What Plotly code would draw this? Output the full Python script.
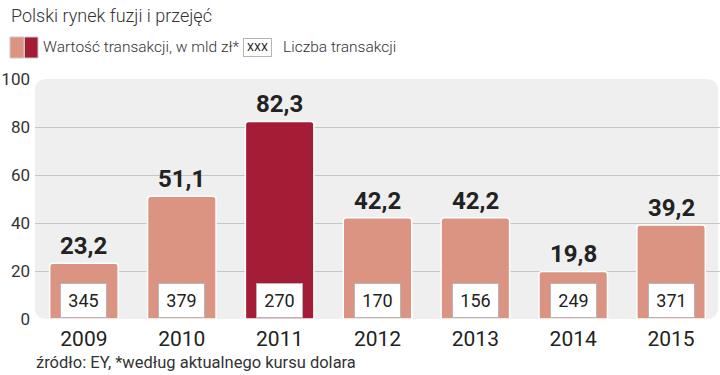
import plotly.graph_objects as go

years = ["2009", "2010", "2011", "2012", "2013", "2014", "2015"]
values = [23.2, 51.1, 82.3, 42.2, 42.2, 19.8, 39.2]
counts = [345, 379, 270, 170, 156, 249, 371]
y_ticks = [0, 20, 40, 60, 80, 100]

SALMON = "#dc9482"
DARK = "#a51c36"
TXT = "#222222"
FONT = "Roboto, sans-serif"

W, H = 720, 375
L, R, T, B = 35, 0, 79, 56
PW, PH = W - L - R, H - T - B


def px(x):
    return (x - L) / PW


def py(y):
    return (H - B - y) / PH


colors = [DARK if y == "2011" else SALMON for y in years]

fig = go.Figure()
fig.add_trace(go.Bar(
    x=years, y=values, width=0.7,
    marker=dict(color=colors, line=dict(color="white", width=1.5), cornerradius=3),
    hoverinfo="skip",
))

ann = []
for i, (v, c) in enumerate(zip(values, counts)):
    ann.append(dict(x=i, y=v, xref="x", yref="y", yanchor="bottom", yshift=1,
                    text=f"{v:.1f}".replace(".", ","), showarrow=False,
                    font=dict(family=FONT, size=24, color=TXT, weight="bold")))
    ann.append(dict(x=i, y=0, xref="x", yref="y", yanchor="bottom", yshift=1,
                    text=str(c), showarrow=False, width=43, height=31,
                    bgcolor="white", bordercolor="#b5b5b5", borderwidth=1, borderpad=1,
                    font=dict(family=FONT, size=18, color=TXT)))

# title, legend, source
ann.append(dict(x=px(9), y=py(15), xref="paper", yref="paper", xanchor="left", yanchor="middle",
                text="Polski rynek fuzji i przejęć", showarrow=False,
                font=dict(family=FONT, size=18, color="#333333", weight=300)))
ann.append(dict(x=px(41), y=py(47), xref="paper", yref="paper", xanchor="left", yanchor="middle",
                text="Wartość transakcji, w mld zł*", showarrow=False,
                font=dict(family=FONT, size=15.5, color="#333333", weight=300)))
ann.append(dict(x=px(257.5), y=py(47.5), xref="paper", yref="paper", xanchor="center", yanchor="middle",
                text="XXX", showarrow=False, width=25, height=15,
                bgcolor="white", bordercolor="#b5b5b5", borderwidth=1, borderpad=1,
                font=dict(family=FONT, size=11, color=TXT)))
ann.append(dict(x=px(281), y=py(47), xref="paper", yref="paper", xanchor="left", yanchor="middle",
                text="Liczba transakcji", showarrow=False,
                font=dict(family=FONT, size=15.5, color="#333333", weight=300)))
ann.append(dict(x=px(34), y=py(362), xref="paper", yref="paper", xanchor="left", yanchor="middle",
                text="źródło: EY, *według aktualnego kursu dolara", showarrow=False,
                font=dict(family=FONT, size=16.5, color="#333333")))

# rounded background panel
x0, x1, y0, y1 = 0, px(718), 0, 1
rx, ry = 12 / PW, 12 / PH
path = (f"M {x0+rx},{y0} L {x1-rx},{y0} Q {x1},{y0} {x1},{y0+ry} "
        f"L {x1},{y1-ry} Q {x1},{y1} {x1-rx},{y1} L {x0+rx},{y1} "
        f"Q {x0},{y1} {x0},{y1-ry} L {x0},{y0+ry} Q {x0},{y0} {x0+rx},{y0} Z")
shapes = [dict(type="path", path=path, xref="paper", yref="paper",
               fillcolor="#efefef", line=dict(width=0), layer="below")]
# legend swatches
shapes.append(dict(type="rect", xref="paper", yref="paper", x0=px(10), x1=px(24), y0=py(58), y1=py(37),
                   fillcolor=SALMON, line=dict(color="#c8c8c8", width=1)))
shapes.append(dict(type="rect", xref="paper", yref="paper", x0=px(24.5), x1=px(38), y0=py(58), y1=py(37),
                   fillcolor=DARK, line=dict(color="#c8c8c8", width=1)))

fig.update_layout(
    width=W, height=H, margin=dict(l=L, r=R, t=T, b=B),
    paper_bgcolor="white", plot_bgcolor="rgba(0,0,0,0)",
    showlegend=False, annotations=ann, shapes=shapes,
    xaxis=dict(type="category", range=[-0.5, 6.5], showgrid=False, zeroline=False, showline=False,
               ticks="", automargin=False, ticklabelstandoff=5,
               tickfont=dict(family=FONT, size=21, color=TXT), fixedrange=True),
    yaxis=dict(range=[0, 100], tickvals=y_ticks, showgrid=True, gridcolor="#c6c6c6", gridwidth=1,
               zeroline=False, showline=False, ticks="", ticklabelstandoff=4, automargin=False,
               tickfont=dict(family=FONT, size=17, color="#333333"), fixedrange=True),
)

fig.write_html("out.html", config={"displayModeBar": False},
               post_script="document.body.style.margin='0';")
